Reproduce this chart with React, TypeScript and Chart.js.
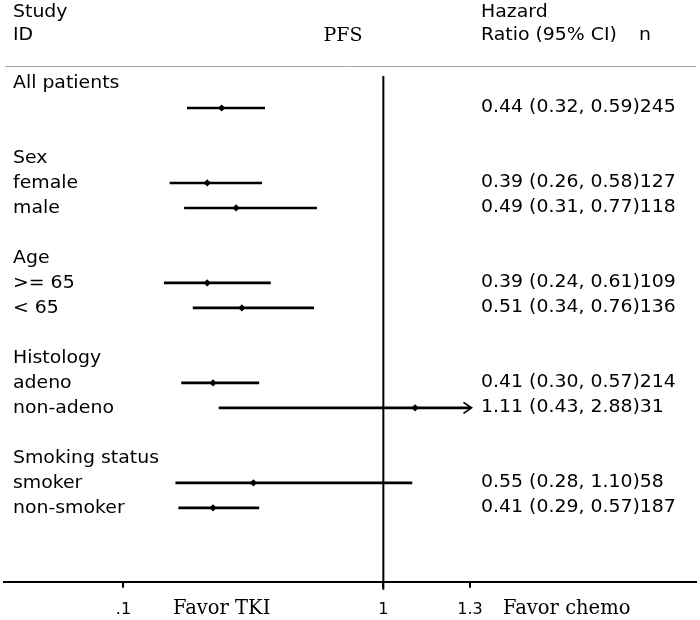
import React, { useEffect, useRef } from "react";
import { Chart, registerables } from "chart.js";

Chart.register(...registerables);

// ---------- data ----------
const studyLabels = ["All patients", "Sex", "female", "male", "Age", ">= 65", "< 65", "Histology", "adeno", "non-adeno", "Smoking status", "smoker", "non-smoker"];
const labelRows = [0, 3, 4, 5, 7, 8, 9, 11, 12, 13, 15, 16, 17];

const estimateRows = [1, 4, 5, 8, 9, 12, 13, 16, 17];
const hazardRatios = [0.44, 0.39, 0.49, 0.39, 0.51, 0.41, 1.11, 0.55, 0.41];
const ciLower = [0.32, 0.26, 0.31, 0.24, 0.34, 0.30, 0.43, 0.28, 0.29];
const ciUpper = [0.59, 0.58, 0.77, 0.61, 0.76, 0.57, 2.88, 1.10, 0.57];
const sampleSizes = [245, 127, 118, 109, 136, 214, 31, 58, 187];

const xTicks = [0.1, 1, 1.3];
const xTickLabels = [".1", "1", "1.3"];
const favorLabels = ["Favor TKI", "Favor chemo"];
const favorValues = [0.44, 1.635];

const X_MIN = -0.3138;
const X_MAX = 2.0828;
const CLIP_MAX = 1.3;
const Y_MIN = -0.68;
const Y_MAX = 19.96;

const SANS = '"DejaVu Sans", sans-serif';
const SERIF = '"DejaVu Serif", serif';
const TEXT_COLOR = "#000";

function drawText(ctx: CanvasRenderingContext2D, text: string, x: number, y: number, font: string, align: CanvasTextAlign = "left", sx = 1) {
  ctx.save();
  ctx.font = font;
  ctx.fillStyle = TEXT_COLOR;
  ctx.textBaseline = "middle";
  ctx.textAlign = align;
  ctx.translate(x, y);
  ctx.scale(sx, 1);
  ctx.fillText(text, 0, 0);
  ctx.restore();
}

const forestPlugin = {
  id: "forestDecor",
  beforeDatasetsDraw(chart: any) {
    const { ctx, chartArea, scales } = chart;
    const x = scales.x;
    const y = scales.y;
    ctx.save();
    // header rule
    ctx.strokeStyle = "#a8a8a8";
    ctx.lineWidth = 1;
    ctx.beginPath();
    ctx.moveTo(chartArea.left + 1, Math.round(chartArea.top) + 0.5);
    ctx.lineTo(chartArea.right, Math.round(chartArea.top) + 0.5);
    ctx.stroke();
    // line of no effect
    const x1 = x.getPixelForValue(1);
    ctx.strokeStyle = "#000";
    ctx.lineWidth = 2;
    ctx.beginPath();
    ctx.moveTo(x1, y.getPixelForValue(-0.28));
    ctx.lineTo(x1, chartArea.bottom + 8);
    ctx.stroke();
    ctx.restore();
  },
  afterDatasetsDraw(chart: any) {
    const { ctx, chartArea, scales } = chart;
    const x = scales.x;
    const y = scales.y;
    const top = chartArea.top;
    const f = `17px ${SANS}`;
    const sx = 1.11;

    // headers
    drawText(ctx, "Study", 13, top - 53, f, "left", sx);
    drawText(ctx, "ID", 13, top - 30, f, "left", sx);
    drawText(ctx, "PFS", x.getPixelForValue(0.86), top - 30, `19px ${SERIF}`, "center");
    drawText(ctx, "Hazard", 481, top - 53, f, "left", sx);
    drawText(ctx, "Ratio (95% CI)", 481, top - 30, f, "left", sx);
    drawText(ctx, "n", 639, top - 30, f, "left", sx);

    // left labels
    studyLabels.forEach((lab, i) => {
      drawText(ctx, lab, 13, y.getPixelForValue(labelRows[i]) + 1, f, "left", sx);
    });

    // right estimates
    estimateRows.forEach((row, i) => {
      const txt = `${hazardRatios[i].toFixed(2)} (${ciLower[i].toFixed(2)}, ${ciUpper[i].toFixed(2)})${sampleSizes[i]}`;
      drawText(ctx, txt, 481, y.getPixelForValue(row), f, "left", sx);
    });

    // arrows for truncated CIs
    ctx.save();
    ctx.strokeStyle = "#000";
    ctx.lineWidth = 1.8;
    estimateRows.forEach((row, i) => {
      if (ciUpper[i] > CLIP_MAX) {
        const px = x.getPixelForValue(CLIP_MAX) + 1.5;
        const py = y.getPixelForValue(row);
        ctx.beginPath();
        ctx.moveTo(px - 8, py - 5.5);
        ctx.lineTo(px, py);
        ctx.lineTo(px - 8, py + 5.5);
        ctx.stroke();
      }
    });
    ctx.restore();

    // favour labels
    favorLabels.forEach((lab, i) => {
      drawText(ctx, lab, x.getPixelForValue(favorValues[i]), chartArea.bottom + 27, `19.5px ${SERIF}`, "center");
    });
  },
};

export default function App() {
  const canvasRef = useRef<HTMLCanvasElement | null>(null);

  useEffect(() => {
    if (!canvasRef.current) return;
    const ciDatasets = estimateRows.map((row, i) => ({
      type: "scatter" as const,
      data: [
        { x: ciLower[i], y: row },
        { x: Math.min(ciUpper[i], CLIP_MAX), y: row },
      ],
      showLine: true,
      borderColor: "#000",
      borderWidth: 2.6,
      pointRadius: 0,
      pointHoverRadius: 0,
    }));
    const pointDataset = {
      type: "scatter" as const,
      data: estimateRows.map((row, i) => ({ x: hazardRatios[i], y: row })),
      pointStyle: "rectRot",
      pointRadius: 3.6,
      backgroundColor: "#000",
      borderColor: "#000",
      borderWidth: 0,
      showLine: false,
    };
    const chart = new Chart(canvasRef.current, {
      type: "scatter",
      data: { datasets: [...ciDatasets, pointDataset] as any },
      options: {
        animation: false,
        responsive: false,
        layout: { padding: { left: 2, right: 3, top: 66, bottom: -11 } },
        plugins: { legend: { display: false }, tooltip: { enabled: false } },
        scales: {
          x: {
            type: "linear",
            min: X_MIN,
            max: X_MAX,
            afterBuildTicks: (scale: any) => {
              scale.ticks = xTicks.map((v) => ({ value: v }));
            },
            ticks: {
              autoSkip: false,
              maxRotation: 0,
              padding: 12,
              color: TEXT_COLOR,
              font: { family: SANS, size: 16 },
              callback: (_v: any, idx: number) => xTickLabels[idx],
            },
            grid: { drawOnChartArea: false, drawTicks: true, tickLength: 6, color: "#000", lineWidth: 2 },
            border: { display: true, color: "#000", width: 2 },
          },
          y: {
            type: "linear",
            display: false,
            reverse: true,
            min: Y_MIN,
            max: Y_MAX,
          },
        },
      },
      plugins: [forestPlugin],
    });
    return () => chart.destroy();
  }, []);

  return (
    <div style={{ position: "absolute", left: 0, top: 0, width: 700, height: 620, background: "#fff" }}>
      <canvas ref={canvasRef} width={700} height={620} style={{ display: "block" }} />
    </div>
  );
}
